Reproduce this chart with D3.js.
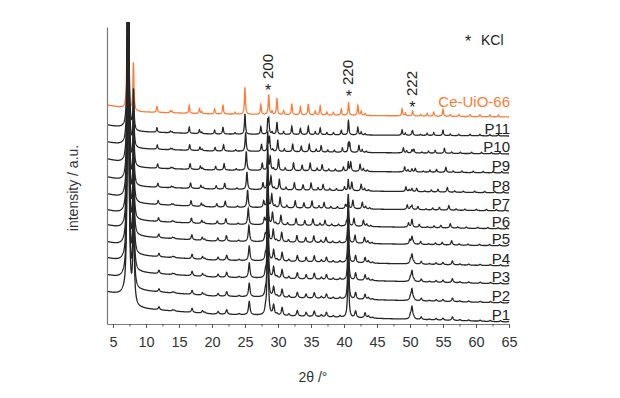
<!DOCTYPE html>
<html>
<head>
<meta charset="utf-8">
<script src="https://cdn.jsdelivr.net/npm/d3@7/dist/d3.min.js"></script>
<style>
  body { margin: 0; background: #fff; }
  text { font-family: "Liberation Sans", Arial, sans-serif; }
</style>
</head>
<body>
<svg id="chart" width="620" height="398"></svg>
<script>
// samples from bottom to top
const samples = ["P1", "P2", "P3", "P4", "P5", "P6", "P7", "P8", "P9", "P10", "P11"];
const sampleOffset = [2, 21, 40, 58, 78, 95, 113, 131, 151, 170, 188];
const refName = "Ce-UiO-66";
const refOffset = 207;

// Ce-UiO-66 reflections (2theta, height)
const mofPeakPos = [11.67, 13.7, 13.95, 16.56, 18.1, 18.45, 20.4, 21.67, 23.5, 25.0, 27.4, 28.6, 29.1, 29.85,
  30.85, 32.1, 33.4, 34.6, 35.65, 36.4, 37.4, 38.4, 39.6, 40.7, 42.1, 42.6, 43.2, 48.8, 49.3, 50.4,
  51.6, 52.6, 53.6, 55.0, 56.1, 57.4, 59.1, 60.6, 62.1, 63.4];
const mofPeakHeight = [6, 2, 1.5, 8, 5, 2, 5, 9, 2, 27, 10, 20, 3, 16,
  4, 11, 8, 11, 4, 9, 3, 3, 6, 13, 10, 4, 2, 7, 3, 5,
  1.5, 3, 4, 7, 2, 2, 2, 2, 2, 2];

// low angle reflections
const refLowPos = [7.18, 8.1];
const refLowHeight = [110, 48];
const lowPos = [7.3, 8.12];
const lowPeak1 = [320, 320, 320, 320, 320, 320, 320, 320, 320, 320, 320];
const lowPeak2 = [80, 76, 72, 68, 64, 60, 56, 52, 48, 44, 40];

// per sample: MOF peak scale, peak shift (relative), peak half width
const mofScale = [0.5, 0.5, 0.55, 0.55, 0.6, 0.6, 0.65, 0.65, 0.7, 0.7, 0.75];
const peakShift = [0.026, 0.026, 0.026, 0.026, 0.024, 0.02, 0.016, 0.012, 0.008, 0.004, 0];
const peakWidth = [0.14, 0.135, 0.13, 0.125, 0.12, 0.115, 0.11, 0.105, 0.1, 0.095, 0.09];
const refWidth = 0.09;

// KCl reflections
const kclPos = [28.45, 40.65, 50.3];
const kclLabels = ["200", "220", "222"];
const kcl200 = [100, 90, 80, 70, 60, 50, 40, 32, 25, 18, 12];
const kcl220 = [60, 55, 50, 45, 35, 26, 14, 11, 9, 8, 6];
const kcl222 = [12, 11, 10, 9, 7, 6, 4, 3, 3, 3, 2];

// background levels above the offset at these angles
const bgTheta = [4.1, 6.5, 7.7, 9.5, 20, 65];
const bgLevels = [
  [30, 26, 13, 13, 8, 0],
  [28, 24, 12, 12, 7, 0],
  [26, 22, 11, 11, 7, 0],
  [24, 20, 10, 10, 6, 0],
  [21, 17, 9, 9, 5, 0],
  [19, 15, 8, 8, 5, 0],
  [17, 13, 7, 7, 4, 0],
  [16, 12, 6, 6, 4, 0],
  [14, 10, 5, 5, 3, 0],
  [12, 9, 5, 5, 3, 0],
  [11, 8, 4, 4, 2, 0]
];
const refBg = [12, 9, 6, 5, 3, 0];

const xTicks = [5, 10, 15, 20, 25, 30, 35, 40, 45, 50, 55, 60, 65];
const xMinor = [7.5, 12.5, 17.5, 22.5, 27.5, 32.5, 37.5, 42.5, 47.5, 52.5, 57.5, 62.5];

const svg = d3.select("#chart");
const x = d3.scaleLinear().domain([4.1, 65]).range([107, 509]);
const y = d3.scaleLinear().domain([0, 297]).range([324, 27]);

svg.append("clipPath").attr("id", "plot")
  .append("rect").attr("x", 107).attr("y", 22).attr("width", 410).attr("height", 302);

const grid = d3.range(4.1, 65.001, 0.02);

function profile(offset, bg, peaks) {
  const bgScale = d3.scaleLinear().domain(bgTheta).range(bg);
  return grid.map(t => {
    let v = offset + bgScale(t);
    peaks.forEach(p => {
      const d = (t - p.pos) / p.w;
      v += p.h / (1 + d * d);
    });
    return [t, v];
  });
}

const line = d3.line().x(d => x(d[0])).y(d => y(d[1]));
const g = svg.append("g").attr("clip-path", "url(#plot)");

// reference trace
const refPeaks = refLowPos.map((p, i) => ({ pos: p, h: refLowHeight[i], w: refWidth }))
  .concat(mofPeakPos.map((p, i) => ({ pos: p, h: mofPeakHeight[i], w: refWidth })));
g.append("path")
  .datum(profile(refOffset, refBg, refPeaks))
  .attr("fill", "none").attr("stroke", "#ff7a33").attr("stroke-width", 1.3)
  .attr("d", line);

// sample traces, top one first
for (let i = samples.length - 1; i >= 0; i--) {
  const w = peakWidth[i];
  const peaks = [
    { pos: lowPos[0], h: lowPeak1[i], w: w },
    { pos: lowPos[1], h: lowPeak2[i], w: w },
    { pos: kclPos[0], h: kcl200[i], w: w * 0.7 },
    { pos: kclPos[1], h: kcl220[i], w: w * 0.7 },
    { pos: kclPos[2], h: kcl222[i], w: w }
  ].concat(mofPeakPos.map((p, k) => ({ pos: p * (1 + peakShift[i]), h: mofPeakHeight[k] * mofScale[i], w: w })));
  g.append("path")
    .datum(profile(sampleOffset[i], bgLevels[i], peaks))
    .attr("fill", "none").attr("stroke", "#262626").attr("stroke-width", 1.3)
    .attr("d", line);
}

// labels
svg.selectAll(".slabel").data(samples).enter().append("text")
  .attr("class", "slabel")
  .attr("x", 510).attr("y", (d, i) => y(sampleOffset[i]) - 2)
  .attr("text-anchor", "end").attr("font-size", 15).attr("fill", "#222")
  .text(d => d);
svg.append("text")
  .attr("x", 510).attr("y", y(refOffset) - 10)
  .attr("text-anchor", "end").attr("font-size", 15).attr("fill", "#ff7a33")
  .text(refName);

// KCl markers
const kclStarY = [90, 96, 107];
kclPos.forEach((p, i) => {
  svg.append("text")
    .attr("x", x(p) + 0.5).attr("y", kclStarY[i] + 6)
    .attr("text-anchor", "middle").attr("font-size", 16).attr("fill", "#222")
    .text("*");
  svg.append("text")
    .attr("transform", `translate(${x(p) + 5},${kclStarY[i] - 11}) rotate(-90)`)
    .attr("font-size", 15).attr("fill", "#222")
    .text(kclLabels[i]);
});
svg.append("text").attr("x", 468).attr("y", 47).attr("text-anchor", "middle")
  .attr("font-size", 16).attr("fill", "#222").text("*");
svg.append("text").attr("x", 481).attr("y", 45).attr("font-size", 14).attr("fill", "#222").text("KCl");

// axes
const axisB = svg.append("g").attr("transform", "translate(0,324)")
  .call(d3.axisBottom(x).tickValues(xTicks).tickSize(4).tickSizeOuter(0).tickPadding(9));
svg.append("g").attr("transform", "translate(0,324)")
  .call(d3.axisBottom(x).tickValues(xMinor).tickSize(2.5).tickFormat(""))
  .select(".domain").remove();
svg.append("g").attr("transform", "translate(107,0)")
  .call(d3.axisLeft(y).tickValues([]).tickSizeOuter(0));

svg.selectAll(".domain").attr("stroke", "#7a7a7a").attr("stroke-width", 1.2);
svg.selectAll(".tick line").attr("stroke", "#555");
axisB.selectAll(".tick text").attr("font-size", 14.5).attr("fill", "#333")
  .attr("font-family", "'Liberation Sans', Arial, sans-serif");

svg.append("text").attr("x", 313).attr("y", 382).attr("text-anchor", "middle")
  .attr("font-size", 14).attr("fill", "#333").text("2θ /°");
svg.append("text").attr("transform", "translate(78,188) rotate(-90)")
  .attr("text-anchor", "middle").attr("font-size", 14).attr("fill", "#333")
  .text("intensity / a.u.");
</script>
</body>
</html>
